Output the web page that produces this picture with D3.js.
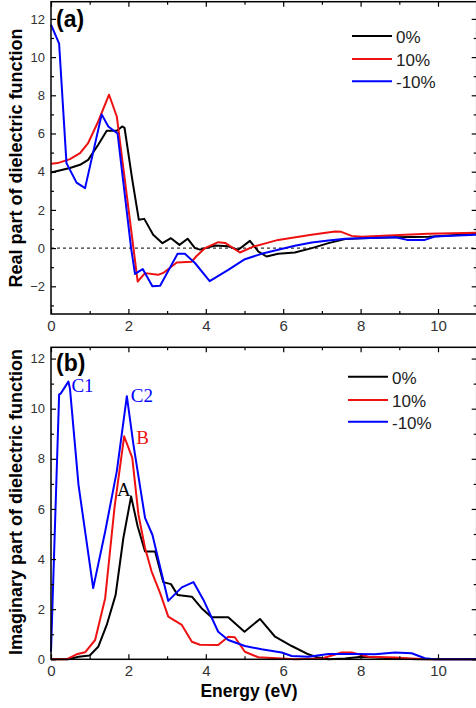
<!DOCTYPE html>
<html>
<head>
<meta charset="utf-8">
<script src="https://cdn.jsdelivr.net/npm/d3@7"></script>
<style>
  body { margin: 0; background: #fff; }
  svg { display: block; font-family: "Liberation Sans", Arial, sans-serif; }
  .tick text { fill: #333; }
</style>
</head>
<body>
<div id="chart"></div>
<script>
// series names and colours
let seriesNames = ["0%", "10%", "-10%"];
let seriesColors = ["#000000", "#ee1111", "#0000ff"];

// (a) real part, [energy eV, value]
let re0 = [[0,3.96],[0.49,4.19],[0.75,4.36],[0.96,4.62],[1.22,5.41],[1.44,6.14],[1.7,6.14],[1.84,6.37],[1.9,6.3],[2.1,3.58],[2.27,1.48],[2.41,1.53],[2.64,0.7],[2.88,0.26],[3.1,0.52],[3.32,0.17],[3.53,0.49],[3.72,0],[3.85,-0.08],[4.24,0.14],[4.58,0.1],[4.84,-0.09],[5.14,0.38],[5.36,-0.18],[5.57,-0.44],[5.87,-0.3],[6.3,-0.23],[6.74,0],[7.17,0.26],[7.6,0.47],[8.03,0.52],[8.9,0.57],[9.76,0.6],[11,0.75]];
let re10 = [[0,4.41],[0.17,4.45],[0.49,4.66],[0.75,4.97],[0.96,5.5],[1.22,6.63],[1.5,8.03],[1.7,6.89],[2.24,-1.75],[2.43,-1.31],[2.77,-1.4],[2.9,-1.3],[3.25,-0.75],[3.63,-0.72],[3.75,-0.44],[3.98,0],[4.32,0.31],[4.5,0.27],[4.88,-0.23],[5.23,0.08],[5.87,0.43],[6.73,0.7],[7.34,0.87],[7.5,0.85],[7.77,0.64],[8.03,0.6],[9.15,0.7],[9.75,0.75],[11,0.8]];
let reM10 = [[0,11.7],[0.21,10.7],[0.4,4.45],[0.66,3.43],[0.88,3.14],[1.31,7.0],[1.48,6.37],[1.72,6.0],[2.07,0],[2.17,-1.35],[2.37,-1.1],[2.62,-2.0],[2.82,-1.97],[3.27,-0.3],[3.46,-0.3],[3.72,-0.78],[4.1,-1.73],[4.58,-1.14],[5.01,-0.58],[5.44,-0.3],[5.87,-0.09],[6.3,0.12],[6.74,0.29],[7.17,0.4],[7.6,0.49],[8.03,0.52],[8.9,0.57],[9.2,0.43],[9.66,0.43],[9.92,0.61],[11,0.7]];

// (b) imaginary part, [energy eV, value]
let im0 = [[0,0],[0.45,0],[0.71,0.1],[1.0,0.15],[1.22,0.5],[1.44,1.37],[1.67,2.57],[1.87,4.84],[2.07,6.5],[2.24,5.3],[2.43,4.3],[2.69,4.3],[2.9,3.08],[3.1,3.0],[3.27,2.57],[3.64,2.5],[3.89,2.04],[4.15,1.68],[4.58,1.68],[5.0,1.1],[5.4,1.61],[5.79,0.9],[6.22,0.53],[6.65,0.2],[6.87,0.08],[7.17,0],[7.6,0.03],[8.03,0.1],[8.9,0.03],[9.5,0],[11,0]];
let im10 = [[0,0],[0.4,0],[0.66,0.2],[0.88,0.28],[1.14,0.77],[1.4,2.44],[1.64,6.04],[1.89,8.9],[2.1,8.04],[2.26,5.77],[2.43,4.44],[2.6,3.5],[2.82,2.64],[3.03,1.7],[3.38,1.37],[3.64,0.7],[3.85,0.58],[4.32,0.57],[4.58,0.9],[4.75,0.88],[5.01,0.3],[5.36,0.08],[6.3,0],[7.0,0.03],[7.51,0.27],[7.77,0.27],[8.2,0.1],[8.9,0.07],[9.3,0.03],[9.75,0],[11,0]];
let imM10 = [[0,0.3],[0.21,10.57],[0.25,10.6],[0.45,11.08],[0.49,10.8],[0.71,6.97],[1.09,2.84],[1.4,5.1],[1.7,7.5],[1.96,10.5],[2.13,8.57],[2.43,5.64],[2.62,4.97],[3.03,2.33],[3.38,2.87],[3.68,3.08],[3.94,2.37],[4.32,1.1],[4.58,0.77],[5.01,0.53],[5.44,0.4],[5.96,0.27],[6.22,0.13],[6.65,0.1],[7.17,0.21],[7.86,0.21],[8.37,0.2],[8.89,0.27],[9.32,0.24],[9.66,0.04],[9.9,0],[11,0]];

// peak labels in (b): [text, colour index]
let peakLabels = [["C1", 2], ["C2", 2], ["B", 1], ["A", 0]];

let xMajor = [0, 2, 4, 6, 8, 10];
let xMinor = [1, 3, 5, 7, 9, 11];
let yMajorA = [-2, 0, 2, 4, 6, 8, 10, 12];
let yMinorA = [-3, -1, 1, 3, 5, 7, 9, 11];
let yMajorB = [0, 2, 4, 6, 8, 10, 12];
let yMinorB = [1, 3, 5, 7, 9, 11];

let w = 476, h = 708;
const svg = d3.select("#chart").append("svg").attr("width", w).attr("height", h);

const x = d3.scaleLinear().domain([0, 11]).range([51, 476.7]);

let drawPanel = (cfg) => {
  const y = d3.scaleLinear().domain(cfg.domain).range(cfg.range);
  const g = svg.append("g");
  const x0 = x.range()[0], x1 = x.range()[1], yb = cfg.range[0], yt = cfg.range[1];

  if (cfg.zeroLine) {
    g.append("line")
      .attr("x1", x0).attr("x2", x1)
      .attr("y1", y(0)).attr("y2", y(0))
      .attr("stroke", "#000").attr("stroke-width", 1).attr("stroke-dasharray", "3,3");
  }

  let line = d3.line().x(d => x(d[0])).y(d => y(d[1]));
  cfg.series.forEach((s, i) => {
    g.append("path")
      .datum(s)
      .attr("d", line)
      .attr("fill", "none")
      .attr("stroke", seriesColors[i])
      .attr("stroke-width", 2)
      .attr("stroke-linejoin", "round");
  });

  // frame
  g.append("rect").attr("x", x0).attr("y", yt).attr("width", x1 - x0).attr("height", yb - yt)
    .attr("fill", "none").attr("stroke", "#000").attr("stroke-width", 1.5);

  // bottom axis
  g.append("g").attr("transform", "translate(0," + yb + ")")
    .call(d3.axisBottom(x).tickValues(xMajor).tickSize(-5).tickPadding(6).tickFormat(d3.format("d")))
    .call(a => a.select(".domain").remove())
    .selectAll("text").style("font-size", "15px");
  g.append("g").attr("transform", "translate(0," + yb + ")")
    .call(d3.axisBottom(x).tickValues(xMinor).tickSize(-3).tickFormat(""))
    .call(a => a.select(".domain").remove());
  // top axis
  g.append("g").attr("transform", "translate(0," + yt + ")")
    .call(d3.axisTop(x).tickValues(xMajor).tickSize(-5).tickFormat(""))
    .call(a => a.select(".domain").remove());
  g.append("g").attr("transform", "translate(0," + yt + ")")
    .call(d3.axisTop(x).tickValues(xMinor).tickSize(-3).tickFormat(""))
    .call(a => a.select(".domain").remove());
  // left axis
  g.append("g").attr("transform", "translate(" + x0 + ",0)")
    .call(d3.axisLeft(y).tickValues(cfg.yMajor).tickSize(-5).tickPadding(6).tickFormat(d3.format("d")))
    .call(a => a.select(".domain").remove())
    .selectAll("text").style("font-size", "13px");
  g.append("g").attr("transform", "translate(" + x0 + ",0)")
    .call(d3.axisLeft(y).tickValues(cfg.yMinor).tickSize(-3).tickFormat(""))
    .call(a => a.select(".domain").remove());
  // right axis
  g.append("g").attr("transform", "translate(" + x1 + ",0)")
    .call(d3.axisRight(y).tickValues(cfg.yMajor).tickSize(-5).tickFormat(""))
    .call(a => a.select(".domain").remove());
  g.append("g").attr("transform", "translate(" + x1 + ",0)")
    .call(d3.axisRight(y).tickValues(cfg.yMinor).tickSize(-3).tickFormat(""))
    .call(a => a.select(".domain").remove());
  g.selectAll(".tick line").attr("stroke", "#000").attr("stroke-width", 1.2);

  // y title
  g.append("text")
    .attr("transform", "translate(22," + cfg.titleY + ") rotate(-90)")
    .attr("text-anchor", "middle")
    .style("font-size", "18px").style("font-weight", "bold")
    .text(cfg.title);

  // panel tag
  g.append("text").attr("x", 56).attr("y", cfg.tagY)
    .style("font-size", "23px").style("font-weight", "bold")
    .text(cfg.tag);

  // legend
  seriesNames.forEach((n, i) => {
    let ly = cfg.legY[i];
    g.append("line").attr("x1", cfg.legX).attr("x2", cfg.legX + 40)
      .attr("y1", ly).attr("y2", ly)
      .attr("stroke", seriesColors[i]).attr("stroke-width", 2);
    g.append("text").attr("x", cfg.legX + 44).attr("y", ly + 7)
      .style("font-size", "17px").attr("fill", "#222")
      .text(n);
  });
  return y;
};

drawPanel({
  domain: [-3.45, 12.9], range: [314, 1.7],
  series: [re0, re10, reM10], zeroLine: true,
  yMajor: yMajorA, yMinor: yMinorA,
  title: "Real part of dielectric function", titleY: 158,
  tag: "(a)", tagY: 27,
  legX: 352, legY: [36, 59, 81.3]
});

const yB = drawPanel({
  domain: [0, 12.45], range: [659.3, 347.3],
  series: [im0, im10, imM10], zeroLine: false,
  yMajor: yMajorB, yMinor: yMinorB,
  title: "Imaginary part of dielectric function", titleY: 502,
  tag: "(b)", tagY: 371,
  legX: 348, legY: [376.7, 400, 421.7]
});

// peak labels anchored to the peak they name
let peakPts = [[0.45, 11.08], [1.96, 10.5], [1.89, 8.9], [2.07, 6.5]];
let peakOff = [[3, 10], [4, 6], [12, 8], [-14, 0]];
peakLabels.forEach((p, i) => {
  svg.append("text")
    .attr("x", x(peakPts[i][0]) + peakOff[i][0])
    .attr("y", yB(peakPts[i][1]) + peakOff[i][1])
    .attr("fill", seriesColors[p[1]])
    .style("font-family", "'Liberation Serif', 'Times New Roman', serif")
    .style("font-size", "19px")
    .text(p[0]);
});

// x title
svg.append("text").attr("x", 249).attr("y", 697)
  .attr("text-anchor", "middle")
  .style("font-size", "17.5px").style("font-weight", "bold")
  .text("Energy (eV)");
</script>
</body>
</html>
